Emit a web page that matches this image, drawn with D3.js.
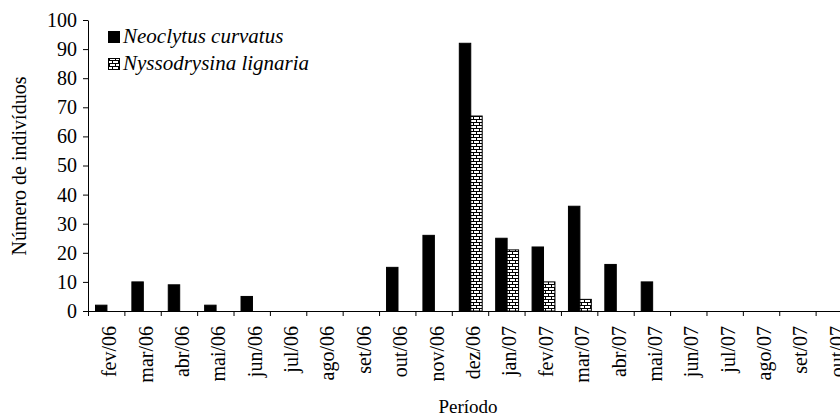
<!DOCTYPE html>
<html>
<head>
<meta charset="utf-8">
<script src="https://cdn.jsdelivr.net/npm/d3@7"></script>
<style>
  body { margin: 0; background: #fff; }
  svg text { font-family: "Liberation Serif", "Times New Roman", serif; fill: #000; }
</style>
</head>
<body>
<div id="chart"></div>
<script>
// Months (x categories)
const periods = ["fev/06", "mar/06", "abr/06", "mai/06", "jun/06", "jul/06", "ago/06", "set/06",
  "out/06", "nov/06", "dez/06", "jan/07", "fev/07", "mar/07", "abr/07", "mai/07",
  "jun/07", "jul/07", "ago/07", "set/07", "out/07"];
const neoclytus = [2, 10, 9, 2, 5, 0, 0, 0, 15, 26, 92, 25, 22, 36, 16, 10, 0, 0, 0, 0, 0];
const nyssodrysina = [0, 0, 0, 0, 0, 0, 0, 0, 0, 0, 67, 21, 10, 4, 0, 0, 0, 0, 0, 0, 0];
const seriesNames = ["Neoclytus curvatus", "Nyssodrysina lignaria"];
const yTicks = [0, 10, 20, 30, 40, 50, 60, 70, 80, 90, 100];

const W = 840, H = 418;
const margin = {top: 20, right: -12, bottom: 107, left: 88};
const width = W - margin.left - margin.right;
const height = H - margin.top - margin.bottom;

const svg = d3.select("#chart").append("svg")
    .attr("width", W)
    .attr("height", H);

// brick hatch pattern for the second series
const defs = svg.append("defs");
const pat = defs.append("pattern")
    .attr("id", "brick")
    .attr("patternUnits", "userSpaceOnUse")
    .attr("width", 6).attr("height", 6);
pat.append("rect").attr("width", 6).attr("height", 6).attr("fill", "#fff");
pat.append("path")
    .attr("d", "M0,0.5H6M0,3.5H6M1.5,0.5V3.5M4.5,3.5V6")
    .attr("stroke", "#000").attr("stroke-width", 1).attr("fill", "none");

const g = svg.append("g")
    .attr("transform", "translate(" + margin.left + "," + margin.top + ")");

const x0 = d3.scaleBand().domain(periods).range([0, width]).paddingInner(0).paddingOuter(0);
const x1 = d3.scaleBand().domain([0, 1]).range([7.5, x0.bandwidth() - 6]);
const y = d3.scaleLinear().domain([0, 100]).range([height, 0]);

const fills = ["#000", "url(#brick)"];
const data = [neoclytus, nyssodrysina];

// bars
data.forEach(function(vals, si) {
  g.selectAll(".bar" + si)
    .data(vals.map(function(v, i) { return {p: periods[i], v: v}; }).filter(function(d) { return d.v > 0; }))
    .enter().append("rect")
    .attr("x", function(d) { return x0(d.p) + x1(si); })
    .attr("y", function(d) { return y(d.v); })
    .attr("width", x1.bandwidth())
    .attr("height", function(d) { return height - y(d.v); })
    .attr("fill", fills[si])
    .attr("stroke", "#000")
    .attr("stroke-width", 1);
});

// y axis
const yAxis = g.append("g")
    .call(d3.axisLeft(y).tickValues(yTicks).tickSize(5).tickPadding(6));
yAxis.selectAll("text").style("font-size", "20px");
yAxis.select(".domain").attr("d", "M0.5," + (height + 0.5) + "V0.5");
yAxis.selectAll("line").attr("stroke", "#000");

// x axis with ticks at band boundaries
const xAxis = g.append("g").attr("transform", "translate(0," + height + ")");
xAxis.append("line")
    .attr("x1", 0).attr("x2", W - margin.left)
    .attr("y1", 0.5).attr("y2", 0.5)
    .attr("stroke", "#000");
xAxis.selectAll(".xtick")
    .data(periods)
    .enter().append("line")
    .attr("x1", function(d) { return x0(d) + x0.bandwidth() + 0.5; })
    .attr("x2", function(d) { return x0(d) + x0.bandwidth() + 0.5; })
    .attr("y1", 0).attr("y2", 5)
    .attr("stroke", "#000");
xAxis.append("line").attr("x1", 0.5).attr("x2", 0.5).attr("y1", 0).attr("y2", 5).attr("stroke", "#000");

xAxis.selectAll(".xlabel")
    .data(periods)
    .enter().append("text")
    .attr("transform", function(d) {
      return "translate(" + (x0(d) + x0.bandwidth() / 2 + 3) + ",15) rotate(-90)";
    })
    .attr("text-anchor", "end")
    .attr("dy", "0.35em")
    .style("font-size", "20px")
    .text(function(d) { return d; });

// axis titles
svg.append("text")
    .attr("transform", "translate(26,166) rotate(-90)")
    .attr("text-anchor", "middle")
    .style("font-size", "20px")
    .text("Número de indivíduos");

svg.append("text")
    .attr("x", 468).attr("y", 413)
    .attr("text-anchor", "middle")
    .style("font-size", "19px")
    .text("Período");

// legend
const legend = svg.append("g").attr("transform", "translate(108,30)");
seriesNames.forEach(function(name, i) {
  const row = legend.append("g").attr("transform", "translate(0," + (i * 27) + ")");
  row.append("rect")
    .attr("x", 0.5).attr("y", 1.5)
    .attr("width", 11).attr("height", 11)
    .attr("fill", fills[i])
    .attr("stroke", "#000");
  row.append("text")
    .attr("x", 15).attr("y", 12.5)
    .style("font-size", "21px")
    .style("font-style", "italic")
    .text(name);
});
</script>
</body>
</html>
